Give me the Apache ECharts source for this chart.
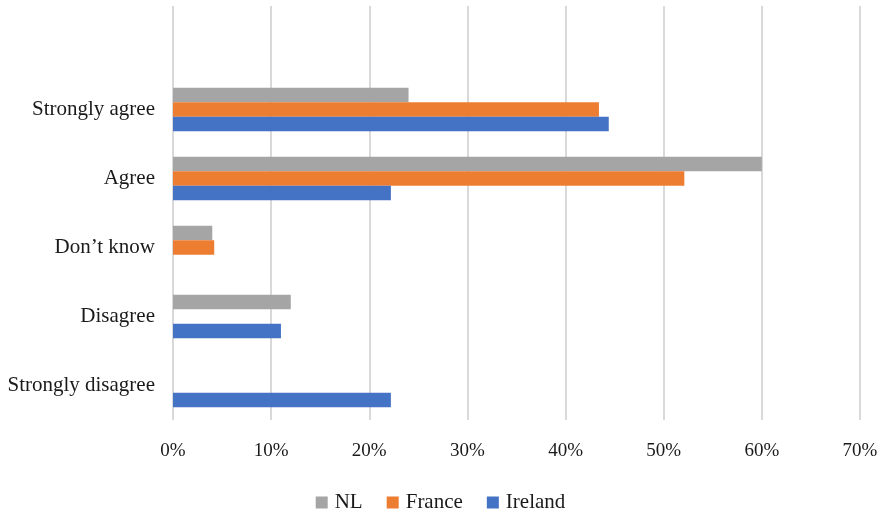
<!DOCTYPE html>
<html>
<head>
<meta charset="utf-8">
<script src="https://cdn.jsdelivr.net/npm/echarts@6/dist/echarts.min.js"></script>
<style>
html,body{margin:0;padding:0;background:#fff;}
#chart{width:881px;height:513px;}
</style>
</head>
<body>
<div id="chart"></div>
<script>
const categories = ['Strongly agree', 'Agree', 'Don\u2019t know', 'Disagree', 'Strongly disagree'];
const seriesNames = ['NL', 'France', 'Ireland'];
const nlValues = [24.0, 60.0, 4.0, 12.0, null];
const franceValues = [43.4, 52.1, 4.2, null, null];
const irelandValues = [44.4, 22.2, null, 11.0, 22.2];
const xTicks = [0, 10, 20, 30, 40, 50, 60, 70];
const colors = ['#A5A5A5', '#ED7D31', '#4472C4'];

const font = 'Liberation Serif';
const chart = echarts.init(document.getElementById('chart'));
const yCats = [''].concat(categories);
const pad = arr => [null].concat(arr);
const allValues = [nlValues, franceValues, irelandValues];

chart.setOption({
  animation: false,
  color: colors,
  grid: { left: 173, right: 21, top: 6, bottom: 93, containLabel: false },
  legend: {
    top: 487,
    left: 'center',
    data: seriesNames,
    icon: 'rect',
    itemWidth: 12,
    itemHeight: 12,
    itemGap: 24,
    textStyle: { fontFamily: font, fontSize: 21, color: '#1a1a1a', padding: [0, 0, 0, 2] }
  },
  xAxis: {
    type: 'value',
    min: xTicks[0],
    max: xTicks[xTicks.length - 1],
    interval: 10,
    axisLine: { show: false },
    axisTick: { show: false },
    axisLabel: { formatter: '{value}%', fontFamily: font, fontSize: 19, color: '#1a1a1a', margin: 22 },
    splitLine: { show: true, lineStyle: { color: '#D9D9D9', width: 2 } }
  },
  yAxis: {
    type: 'category',
    inverse: true,
    data: yCats,
    axisLine: { show: false },
    axisTick: { show: false },
    axisLabel: { fontFamily: font, fontSize: 21, color: '#1a1a1a', margin: 18 }
  },
  series: seriesNames.map((name, i) => ({
    name: name,
    type: 'bar',
    data: pad(allValues[i]),
    barGap: '0%',
    barCategoryGap: '37%',
    itemStyle: { color: colors[i] }
  }))
});
</script>
</body>
</html>
